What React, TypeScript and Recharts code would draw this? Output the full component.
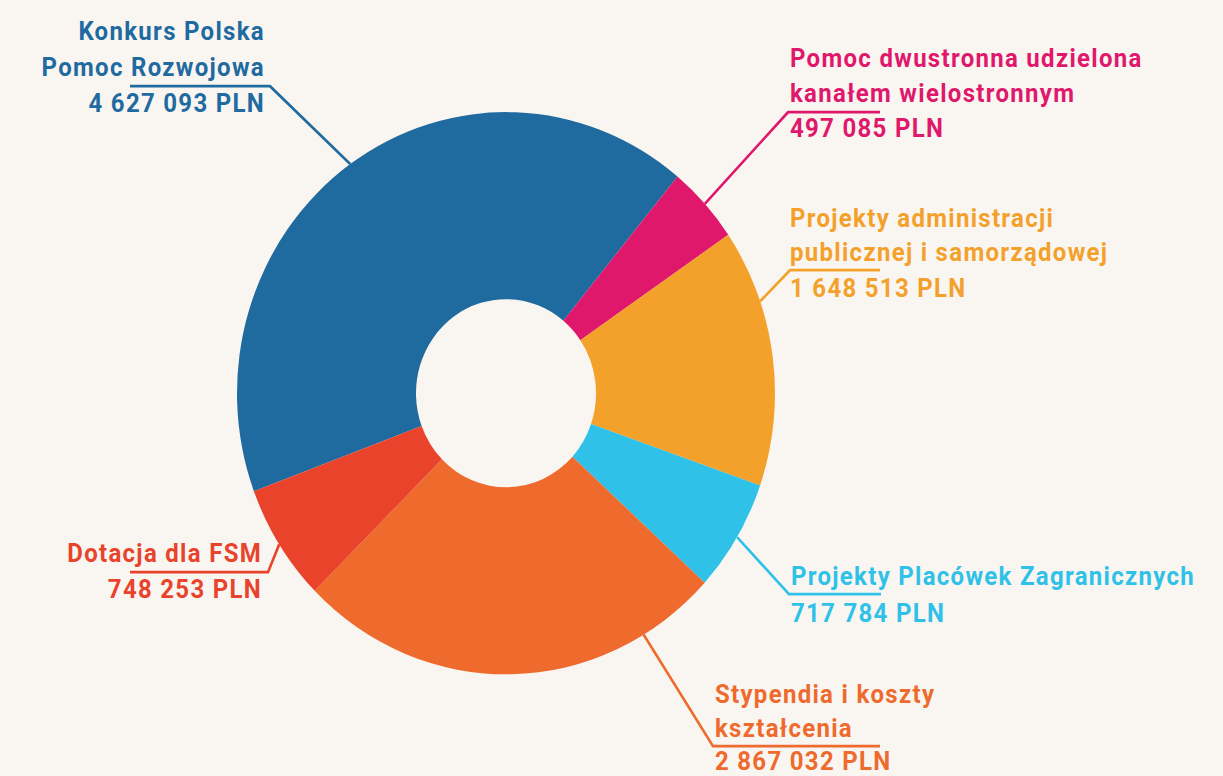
import { Cell, Pie, PieChart } from "recharts";

const categories = [
  "Konkurs Polska Pomoc Rozwojowa",
  "Pomoc dwustronna udzielona kanałem wielostronnym",
  "Projekty administracji publicznej i samorządowej",
  "Projekty Placówek Zagranicznych",
  "Stypendia i koszty kształcenia",
  "Dotacja dla FSM",
];
const values = [4627093, 497085, 1648513, 717784, 2867032, 748253];
const labelLines = [
  ["Konkurs Polska", "Pomoc Rozwojowa"],
  ["Pomoc dwustronna udzielona", "kanałem wielostronnym"],
  ["Projekty administracji", "publicznej i samorządowej"],
  ["Projekty Placówek Zagranicznych"],
  ["Stypendia i koszty", "kształcenia"],
  ["Dotacja dla FSM"],
];
const colors = ["#1f6a9f", "#e0186c", "#f4a12c", "#30c1e8", "#ee6a2d", "#e9432b"];

// the reference is slightly stretched vertically
const SY = 1.045;
const CX = 501;
const CY = 388;

// leader line bend + text block, in screen px relative to the pie centre
type LabelLayout = {
  angle?: number;
  elbowX: number;
  elbowY: number;
  lineEndX: number;
  textX: number;
  baselines: number[];
  anchor: "start" | "end";
};
const labelLayout: LabelLayout[] = [
  { elbowX: -236, elbowY: -307, lineEndX: -376, textX: -241, baselines: [-353, -317, -281], anchor: "end" },
  { elbowX: 282, elbowY: -281, lineEndX: 374, textX: 284, baselines: [-326, -291, -256], anchor: "start" },
  { angle: 19.1, elbowX: 284, elbowY: -123, lineEndX: 374, textX: 284, baselines: [-166, -132, -96], anchor: "start" },
  { angle: -30.8, elbowX: 283, elbowY: 201, lineEndX: 375, textX: 285, baselines: [192, 229], anchor: "start" },
  { angle: -59.2, elbowX: 207, elbowY: 353, lineEndX: 374, textX: 209, baselines: [310, 344, 377], anchor: "start" },
  { elbowX: -238, elbowY: 179, lineEndX: -376, textX: -244, baselines: [169, 205], anchor: "end" },
];

const formatPLN = (v: number) => String(v).replace(/\B(?=(\d{3})+(?!\d))/g, " ") + " PLN";

const data = categories.map((name, i) => ({ name, value: values[i] }));

const RAD = Math.PI / 180;

const renderLabel = (props: any) => {
  const { cx, cy, midAngle, outerRadius, index } = props;
  const lay = labelLayout[index];
  const a = (lay.angle ?? midAngle) * RAD;
  const ax = cx + outerRadius * Math.cos(a);
  const ay = cy - outerRadius * Math.sin(a);
  const ex = cx + lay.elbowX;
  const ey = cy + lay.elbowY / SY;
  const lx = cx + lay.lineEndX;
  const color = colors[index];
  const lines = [...labelLines[index], formatPLN(values[index])];
  return (
    <g key={`lbl-${index}`}>
      <polyline
        points={`${ax},${ay} ${ex},${ey} ${lx},${ey}`}
        fill="none"
        stroke={color}
        strokeWidth={2.6}
      />
      {lines.map((t, j) => (
        <text
          key={j}
          x={cx + lay.textX}
          y={cy + lay.baselines[j] / SY}
          textAnchor={lay.anchor}
          fill={color}
          fontFamily="Roboto, sans-serif"
          fontWeight={700}
          fontSize={24}
          letterSpacing={1.3}
        >
          {t}
        </text>
      ))}
    </g>
  );
};

export default function App() {
  return (
    <div style={{ position: "fixed", inset: 0, background: "#f9f6f2", overflow: "hidden" }}>
      <div style={{ transform: `scale(1, ${SY})`, transformOrigin: "0 0" }}>
        <PieChart width={1223} height={Math.round(776 / SY)}>
          <Pie
            data={data}
            dataKey="value"
            nameKey="name"
            cx={CX}
            cy={CY / SY}
            innerRadius={90}
            outerRadius={269}
            startAngle={200.4}
            endAngle={-159.6}
            stroke="none"
            labelLine={false}
            label={renderLabel}
            isAnimationActive={false}
          >
            {data.map((entry, i) => (
              <Cell key={entry.name} fill={colors[i]} />
            ))}
          </Pie>
        </PieChart>
      </div>
    </div>
  );
}
